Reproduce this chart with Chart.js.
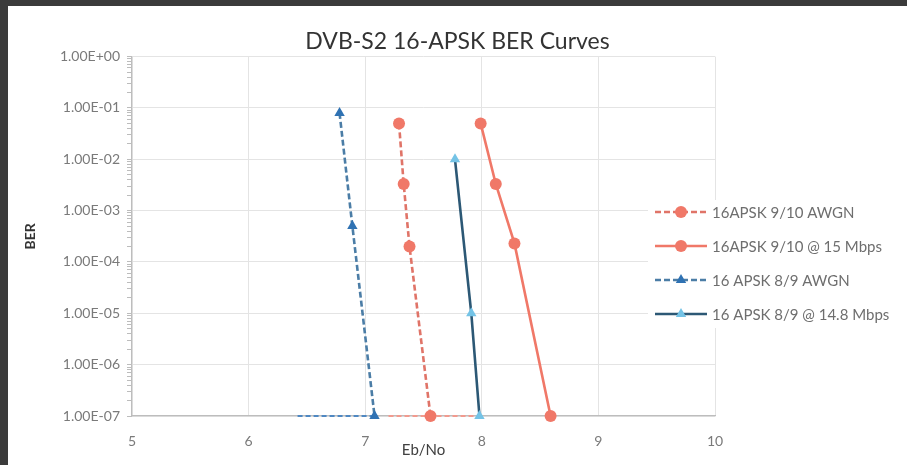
<!DOCTYPE html>
<html>
<head>
<meta charset="utf-8">
<script src="https://cdn.jsdelivr.net/npm/chart.js@4/dist/chart.umd.min.js"></script>
<style>
  html, body { margin: 0; padding: 0; background: #fff; }
  #frame {
    position: absolute; left: 0; top: 0; width: 907px; height: 465px;
    box-sizing: border-box; background: #fff;
    border-top: 6px solid #3b3b3b; border-left: 8px solid #3b3b3b;
  }
  #box { position: relative; width: 899px; height: 459px; }
</style>
</head>
<body>
<div id="frame"><div id="box"><canvas id="graficoBER"></canvas></div></div>
<script>
// Datos (Eb/No en dB, BER)
const labels = ['16APSK 9/10 AWGN', '16APSK 9/10 @ 15 Mbps', '16 APSK 8/9 AWGN', '16 APSK 8/9 @ 14.8 Mbps'];

const ebno910Awgn = [7.29, 7.33, 7.38, 7.56];
const ber910Awgn  = [5e-2, 3.3e-3, 2e-4, 1e-7];

const ebno910Rate = [7.99, 8.12, 8.28, 8.59];
const ber910Rate  = [5e-2, 3.3e-3, 2.3e-4, 1e-7];

const ebno89Awgn = [6.78, 6.89, 7.08];
const ber89Awgn  = [8e-2, 5e-4, 1e-7];

const ebno89Rate = [7.77, 7.91, 7.98];
const ber89Rate  = [1e-2, 1e-5, 1e-7];

// tramos pegados al piso de 1E-07
const berFloor = 1e-7;
const floor910Awgn = [7.2, 7.95];
const floor89Awgn  = [6.42, 7.07];

const xTicks = [5, 6, 7, 8, 9, 10];
const yDecades = [0, -1, -2, -3, -4, -5, -6, -7];

const puntos = (xs, ys) => xs.map((x, i) => ({ x: x, y: ys[i] }));
const piso = xs => xs.map(x => ({ x: x, y: berFloor }));

function sci(v) {
  const [m, e] = v.toExponential(2).toUpperCase().split('E');
  const n = parseInt(e, 10);
  return m + 'E' + (n < 0 ? '-' : '+') + String(Math.abs(n)).padStart(2, '0');
}

const rojo = '#f07868';
const rojoDash = '#e07468';
const azul = '#2f72b3';
const azulDash = '#4b7da6';
const azulOscuro = '#2c5875';
const celeste = '#74c3e6';

const series = [
  { label: labels[0], data: puntos(ebno910Awgn, ber910Awgn), borderColor: rojoDash, backgroundColor: rojo,
    borderDash: [6, 3], pointStyle: 'circle', pointRadius: 6 },
  { label: labels[1], data: puntos(ebno910Rate, ber910Rate), borderColor: rojo, backgroundColor: rojo,
    borderDash: [], pointStyle: 'circle', pointRadius: 6 },
  { label: labels[2], data: puntos(ebno89Awgn, ber89Awgn), borderColor: azulDash, backgroundColor: azul,
    borderDash: [6, 3], pointStyle: 'triangle', pointRadius: 6 },
  { label: labels[3], data: puntos(ebno89Rate, ber89Rate), borderColor: azulOscuro, backgroundColor: celeste,
    borderDash: [], pointStyle: 'triangle', pointRadius: 6 }
];

const datasets = series.map(s => Object.assign({
  showLine: true, borderWidth: 2.6, pointBorderWidth: 0, pointBorderColor: s.backgroundColor, clip: false
}, s));

datasets.push(
  { label: '', data: piso(floor910Awgn), borderColor: '#f29a8e', borderDash: [5, 3], borderWidth: 2,
    showLine: true, pointRadius: 0, clip: false, order: 5 },
  { label: '', data: piso(floor89Awgn), borderColor: '#4f88c2', borderDash: [5, 3], borderWidth: 2,
    showLine: true, pointRadius: 0, clip: false, order: 5 }
);

// leyenda a la derecha, encima del area de trazado (como en Excel)
const leyenda = {
  id: 'leyenda',
  afterDraw(chart) {
    const c = chart.ctx;
    c.save();
    c.fillStyle = '#fff';
    c.fillRect(640, 194, 255, 128);
    const y0 = 206, dy = 34;
    series.forEach((s, i) => {
      const y = y0 + i * dy;
      c.strokeStyle = s.borderColor;
      c.lineWidth = 2.6;
      c.setLineDash(s.borderDash);
      c.beginPath();
      c.moveTo(647, y);
      c.lineTo(699, y);
      c.stroke();
      c.setLineDash([]);
      c.fillStyle = s.backgroundColor;
      Chart.helpers.drawPoint(c, { pointStyle: s.pointStyle, radius: 6, rotation: 0, borderWidth: 0 }, 673, y);
      c.fillStyle = '#6e6e6e';
      c.font = '15px Lato';
      c.textBaseline = 'middle';
      c.fillText(s.label, 704, y + 1);
    });
    c.restore();
  }
};

new Chart(document.getElementById('graficoBER').getContext('2d'), {
  type: 'scatter',
  data: { datasets: datasets },
  plugins: [leyenda],
  options: {
    responsive: true,
    maintainAspectRatio: false,
    animation: false,
    layout: { padding: 0 },
    plugins: {
      legend: { display: false },
      tooltip: { enabled: false },
      title: {
        display: true,
        text: 'DVB-S2 16-APSK BER Curves',
        color: '#333',
        font: { family: 'Lato', size: 23, weight: 'normal' },
        padding: { top: 22, bottom: 1 }
      }
    },
    scales: {
      x: {
        type: 'linear',
        min: xTicks[0],
        max: xTicks[xTicks.length - 1],
        afterBuildTicks: scale => { scale.ticks = xTicks.map(v => ({ value: v })); },
        afterFit: scale => { scale.height = 49; },
        grid: { color: '#e4e4e4', drawTicks: false },
        border: { color: '#bdbdbd', width: 1.2 },
        ticks: { color: '#7a7a7a', font: { family: 'Lato', size: 14 }, padding: 17 },
        title: {
          display: true, text: 'Eb/No', color: '#404040',
          font: { family: 'Lato', size: 15 }, padding: { top: 0, bottom: 6 }
        }
      },
      y: {
        type: 'logarithmic',
        min: Math.pow(10, yDecades[yDecades.length - 1]),
        max: Math.pow(10, yDecades[0]),
        afterBuildTicks: scale => {
          const t = [];
          yDecades.slice().reverse().forEach(e => {
            const base = Math.pow(10, e);
            t.push({ value: base, major: true });
            if (e < yDecades[0]) for (let k = 2; k <= 9; k++) t.push({ value: k * base, major: false });
          });
          scale.ticks = t;
        },
        afterFit: scale => { scale.width = 124; },
        grid: {
          color: c => (c.tick && c.tick.major) ? '#e4e4e4' : 'rgba(0,0,0,0)',
          tickColor: '#bcbcbc',
          tickLength: 5
        },
        border: { color: '#bdbdbd', width: 1.2 },
        ticks: {
          autoSkip: false,
          color: '#7a7a7a',
          font: { family: 'Lato', size: 14 },
          padding: 7,
          callback: (v, i, ticks) => ticks[i].major ? sci(v) : ''
        },
        title: {
          display: true, text: 'BER', color: '#333',
          font: { family: 'Lato', size: 14, weight: 'bold' }, padding: { top: 14, bottom: 0 }
        }
      },
      // hueco a la derecha para la leyenda
      hueco: {
        type: 'linear',
        position: 'right',
        display: true,
        grid: { display: false, drawTicks: false },
        border: { display: false },
        ticks: { display: false },
        afterFit: scale => { scale.width = 192; }
      }
    }
  }
});
</script>
</body>
</html>
